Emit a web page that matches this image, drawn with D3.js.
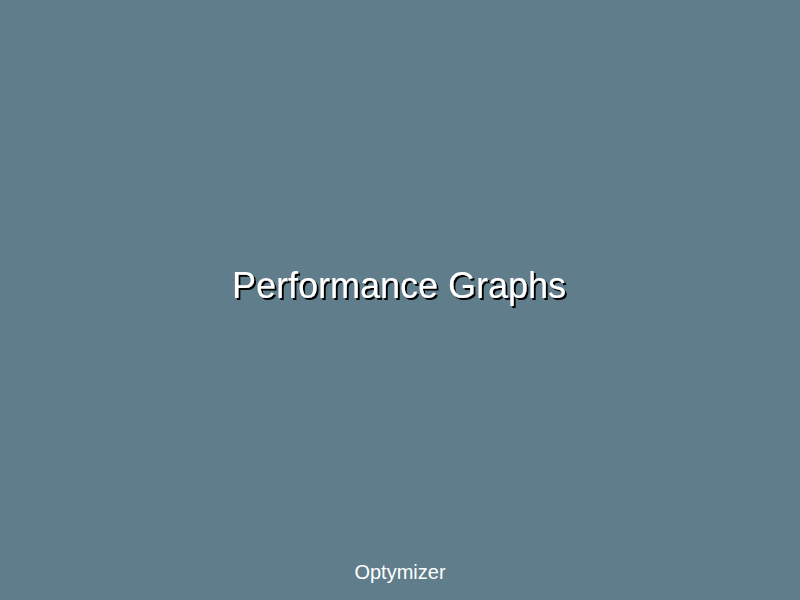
<!DOCTYPE html>
<html>
<head>
<meta charset="utf-8">
<script src="https://cdn.jsdelivr.net/npm/d3@7"></script>
<style>
  html, body { margin: 0; padding: 0; background: #607d8b; }
  svg { display: block; }
</style>
</head>
<body>
<script>
// Slide texts (no numeric series on this title slide)
const titleLines = ["Performance Graphs"];
const footerLines = ["Optymizer"];

const width = 800, height = 600;
const svg = d3.select("body").append("svg")
  .attr("width", width).attr("height", height);

const defs = svg.append("defs");
const f = defs.append("filter").attr("id", "shadow")
  .attr("x", "-10%").attr("y", "-20%").attr("width", "120%").attr("height", "150%");
f.append("feDropShadow")
  .attr("dx", 2).attr("dy", 2).attr("stdDeviation", 0.4)
  .attr("flood-color", "#000").attr("flood-opacity", 1);

svg.append("rect").attr("width", width).attr("height", height).attr("fill", "#607d8b");

const y = d3.scaleBand().domain(titleLines).range([266, 304]);

svg.selectAll("text.title").data(titleLines).join("text")
  .attr("class", "title")
  .attr("x", width / 2 - 1)
  .attr("y", d => y(d) + y.bandwidth() / 2)
  .attr("dy", "0.35em")
  .attr("text-anchor", "middle")
  .attr("font-family", "Liberation Sans, Arial, sans-serif")
  .attr("font-size", 36)
  .attr("fill", "#fff")
  .attr("filter", "url(#shadow)")
  .text(d => d);

svg.selectAll("text.footer").data(footerLines).join("text")
  .attr("class", "footer")
  .attr("x", width / 2)
  .attr("y", 579)
  .attr("text-anchor", "middle")
  .attr("font-family", "Liberation Sans, Arial, sans-serif")
  .attr("font-size", 20)
  .attr("fill", "#fff")
  .text(d => d);
</script>
</body>
</html>
